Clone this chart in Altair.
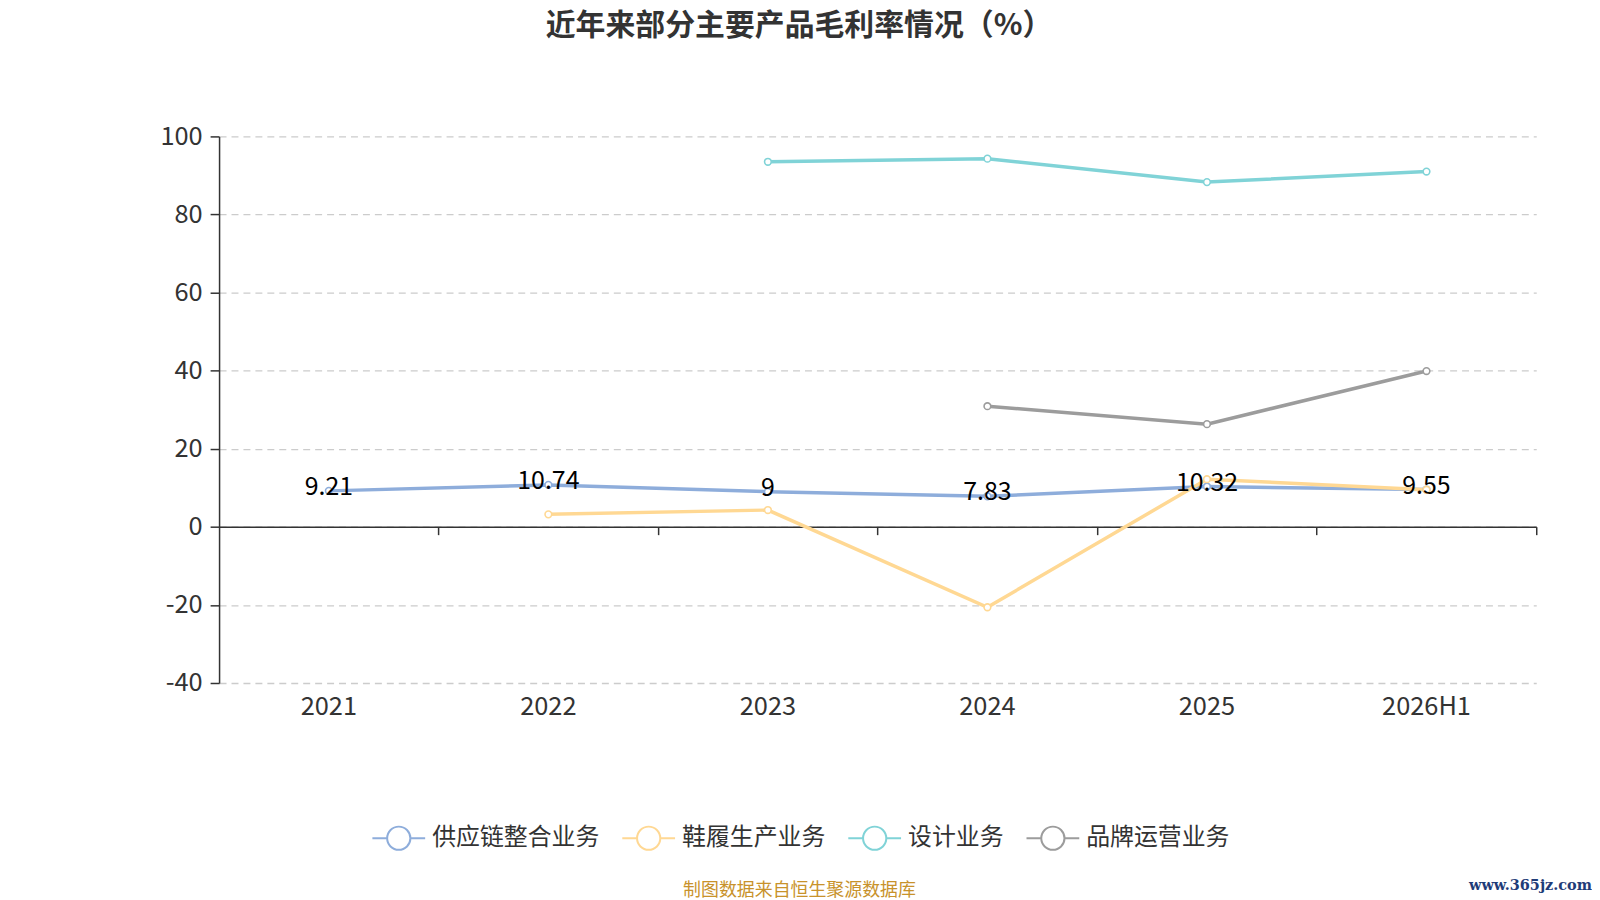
import altair as alt
import pandas as pd

FONT = "Noto Sans CJK SC"

years = ["2021", "2022", "2023", "2024", "2025", "2026H1"]
series = ["供应链整合业务", "鞋履生产业务", "设计业务", "品牌运营业务"]
supply = [9.21, 10.74, 9.00, 7.83, 10.32, 9.55]
shoes = [None, 3.2, 4.3, -20.6, 12.2, 9.5]
design = [None, None, 93.5, 94.3, 88.3, 91.0]
brand = [None, None, None, 30.9, 26.3, 39.9]
colors = ["#8EADDB", "#FFD893", "#80D3D7", "#9C9C9C"]
y_ticks = [-40, -20, 0, 20, 40, 60, 80, 100]

rows = []
for s, vals in zip(series, [supply, shoes, design, brand]):
    for yr, v in zip(years, vals):
        if v is not None:
            rows.append({"year": yr, "series": s, "value": v, "label": f"{v:g}"})
df = pd.DataFrame(rows)
label_df = df[df["series"] == series[0]]

# line + circle legend symbol (unit box [-1,1])
r, k = 0.44, 0.243
SYMBOL = (
    f"M-1,0L-{r},0M{r},0L1,0"
    f"M{r},0C{r},{k} {k},{r} 0,{r}C-{k},{r} -{r},{k} -{r},0"
    f"C-{r},-{k} -{k},-{r} 0,-{r}C{k},-{r} {r},-{k} {r},0Z"
)

xscale = alt.Scale(type="band", paddingInner=0, paddingOuter=0)
yenc = alt.Y(
    "value:Q",
    scale=alt.Scale(domain=[-40, 100], nice=False, zero=False),
    axis=alt.Axis(
        values=y_ticks, title=None, domain=True, domainColor="#333333", domainWidth=1.5,
        ticks=True, tickColor="#333333", tickSize=9, tickWidth=1.5,
        labelFont=FONT, labelFontSize=25.5, labelColor="#333333", labelPadding=8,
        labelExpr="datum.value < 0 ? '-' + abs(datum.value) : '' + datum.value",
        grid=True, gridColor="#CCCCCC", gridDash=[7, 5], gridWidth=1.3,
    ),
)

lines = alt.Chart(df).mark_line(
    strokeWidth=3.5,
    point=alt.OverlayMarkDef(filled=False, fill="white", size=45, strokeWidth=1.6),
).encode(
    x=alt.X("year:N", sort=years, scale=xscale,
            axis=alt.Axis(title=None, domain=False, ticks=False, grid=False, labelAngle=0,
                          labelFont=FONT, labelFontSize=25.5, labelColor="#333333",
                          labelPadding=12, orient="bottom")),
    y=yenc,
    color=alt.Color(
        "series:N", sort=series,
        scale=alt.Scale(domain=series, range=colors),
        legend=alt.Legend(
            title=None, orient="none", legendX=153, legendY=677, direction="horizontal",
            symbolType=SYMBOL, symbolSize=2809, symbolStrokeWidth=2,
            symbolFillColor="white", labelFont=FONT, labelFontSize=24, labelLimit=400,
            labelColor="#333333", labelOffset=6, columnPadding=19, padding=0,
        ),
    ),
    order=alt.Order("year:N"),
)

labels = alt.Chart(label_df).mark_text(
    font=FONT, fontSize=25, color="#000000", baseline="middle", dy=-4
).encode(
    x=alt.X("year:N", sort=years, scale=xscale, axis=None),
    y=yenc,
    text="label:N",
)

zero_axis = alt.Chart(df).mark_point(opacity=0).encode(
    x=alt.X("year:N", sort=years, scale=xscale,
            axis=alt.Axis(title=None, labels=False, domain=True, domainColor="#333333",
                          domainWidth=1.5, ticks=True, tickColor="#333333", tickSize=8,
                          tickWidth=1.5, bandPosition=1, grid=False, offset=-157,
                          orient="bottom")),
    y=yenc,
)

footnote = alt.Chart(pd.DataFrame({"t": ["制图数据来自恒生聚源数据库"]})).mark_text(
    font=FONT, fontSize=18, color="#C8922B", align="center", baseline="middle"
).encode(x=alt.value(583), y=alt.value(758), text="t:N")

watermark = alt.Chart(pd.DataFrame({"t": ["www.365jz.com"]})).mark_text(
    font="DejaVu Serif", fontSize=14.5, fontWeight="bold", color="#1F3C78",
    align="right", baseline="middle"
).encode(x=alt.value(1379), y=alt.value(753), text="t:N")

chart = alt.layer(lines, labels, zero_axis, footnote, watermark).resolve_axis(
    x="independent"
).properties(
    width=1323,
    height=549,
    padding={"left": 212, "top": 127, "right": 56, "bottom": 220},
    autosize=alt.AutoSizeParams(type="none"),
    title=alt.TitleParams(
        "近年来部分主要产品毛利率情况（%）", font=FONT, fontSize=30, fontWeight="bold",
        color="#333333", anchor="middle", dx=-79, offset=84,
    ),
).configure(background="white").configure_view(stroke=None)

chart.save("out.html", embed_options={"renderer": "svg", "actions": False})
